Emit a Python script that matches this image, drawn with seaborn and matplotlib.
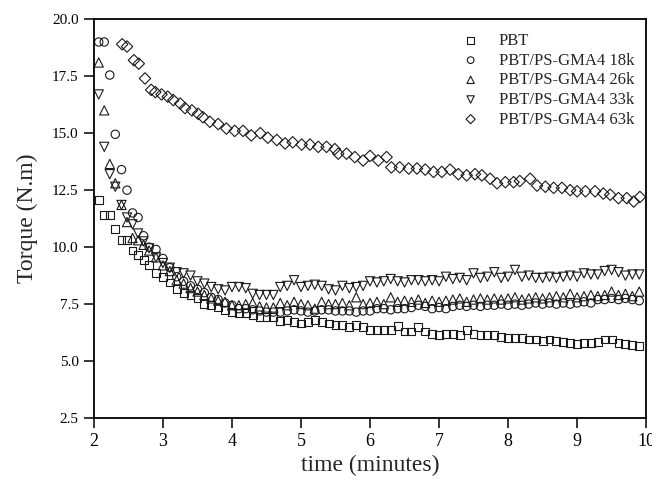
import numpy as np
import pandas as pd
import matplotlib
matplotlib.use("Agg")
import matplotlib.pyplot as plt
import seaborn as sns

# ---- data ----
time_early = [2.07, 2.15, 2.23, 2.31, 2.40, 2.48, 2.56, 2.64, 2.72, 2.80, 2.90]
time_late = np.round(np.arange(3.0, 9.95, 0.1), 2)
time = np.concatenate([time_early, time_late])

pbt = [12.05, 11.4, 11.4, 10.8, 10.3, 10.3, 9.85, 9.65, 9.45, 9.2, 8.85,
       8.7, 8.45, 8.15, 8.0, 7.9, 7.75, 7.5, 7.45, 7.35, 7.25,
       7.15, 7.1, 7.1, 7.0, 6.95, 6.95, 6.95, 6.75, 6.8, 6.7,
       6.65, 6.7, 6.8, 6.7, 6.65, 6.6, 6.58, 6.5, 6.58, 6.5,
       6.35, 6.35, 6.35, 6.35, 6.55, 6.3, 6.3, 6.5, 6.3, 6.2,
       6.15, 6.2, 6.2, 6.15, 6.35, 6.2, 6.15, 6.15, 6.15, 6.05,
       6.0, 6.0, 6.0, 5.95, 5.95, 5.9, 5.95, 5.9, 5.85, 5.8,
       5.75, 5.8, 5.8, 5.85, 5.95, 5.95, 5.8, 5.75, 5.7, 5.65]

gma_18k = [19.0, 19.0, 17.55, 14.95, 13.4, 12.5, 11.5, 11.3, 10.5, 10.0, 9.9,
           9.5, 9.1, 8.7, 8.5, 8.3, 8.15, 8.0, 7.8, 7.7, 7.55,
           7.45, 7.3, 7.3, 7.25, 7.2, 7.15, 7.15, 7.15, 7.2, 7.25,
           7.2, 7.15, 7.2, 7.25, 7.25, 7.2, 7.2, 7.2, 7.15, 7.2,
           7.2, 7.3, 7.3, 7.25, 7.3, 7.3, 7.35, 7.45, 7.4, 7.3,
           7.35, 7.3, 7.4, 7.45, 7.4, 7.45, 7.4, 7.45, 7.45, 7.5,
           7.45, 7.5, 7.45, 7.5, 7.55, 7.5, 7.55, 7.5, 7.55, 7.5,
           7.55, 7.6, 7.55, 7.7, 7.7, 7.75, 7.7, 7.75, 7.7, 7.65]

gma_26k = [18.1, 16.0, 13.65, 12.8, 11.85, 11.1, 10.4, 10.3, 10.1, 9.85, 9.55,
           9.2, 8.95, 8.55, 8.4, 8.2, 8.05, 7.9, 7.75, 7.65, 7.6,
           7.45, 7.45, 7.5, 7.55, 7.4, 7.35, 7.35, 7.55, 7.45, 7.6,
           7.5, 7.45, 7.3, 7.6, 7.5, 7.5, 7.55, 7.45, 7.8, 7.5,
           7.55, 7.6, 7.5, 7.8, 7.6, 7.65, 7.6, 7.7, 7.55, 7.65,
           7.6, 7.65, 7.7, 7.75, 7.6, 7.7, 7.75, 7.7, 7.75, 7.7,
           7.75, 7.8, 7.7, 7.75, 7.8, 7.75, 7.8, 7.85, 7.8, 7.95,
           7.8, 7.85, 7.9, 7.85, 7.9, 8.05, 7.9, 7.95, 7.85, 8.05]

gma_33k = [16.7, 14.4, 13.2, 12.65, 11.85, 11.3, 11.0, 10.6, 10.25, 9.95, 9.55,
           9.3, 9.1, 8.9, 8.85, 8.75, 8.5, 8.4, 8.25, 8.15, 8.1,
           8.25, 8.25, 8.2, 7.95, 7.9, 7.9, 7.9, 8.25, 8.3, 8.55,
           8.25, 8.3, 8.35, 8.3, 8.15, 8.1, 8.3, 8.2, 8.25, 8.3,
           8.5, 8.45, 8.5, 8.6, 8.5, 8.45, 8.55, 8.55, 8.5, 8.55,
           8.5, 8.7, 8.6, 8.65, 8.55, 8.85, 8.65, 8.7, 8.9, 8.65,
           8.7, 9.0, 8.7, 8.75, 8.65, 8.65, 8.7, 8.65, 8.7, 8.75,
           8.7, 8.85, 8.8, 8.8, 8.95, 9.0, 8.9, 8.75, 8.8, 8.8]

time_63k = [2.41, 2.48, 2.58, 2.65, 2.74, 2.83, 2.89, 2.98, 3.07, 3.15,
            3.25, 3.32, 3.42, 3.51, 3.58, 3.68, 3.80, 3.92, 4.04, 4.16,
            4.28, 4.41, 4.52, 4.65, 4.77, 4.88, 5.01, 5.13, 5.25, 5.37,
            5.49, 5.54, 5.66, 5.78, 5.90, 6.00, 6.12, 6.24, 6.31, 6.43,
            6.56, 6.68, 6.80, 6.92, 7.04, 7.16, 7.28, 7.40, 7.52, 7.62,
            7.74, 7.84, 7.96, 8.08, 8.17, 8.32, 8.42, 8.54, 8.66, 8.78,
            8.90, 9.00, 9.12, 9.26, 9.38, 9.48, 9.60, 9.72, 9.82, 9.91]
gma_63k = [18.9, 18.8, 18.2, 18.05, 17.4, 16.9, 16.8, 16.7, 16.6, 16.45,
           16.3, 16.1, 16.0, 15.85, 15.7, 15.5, 15.4, 15.2, 15.1, 15.1,
           14.9, 15.0, 14.8, 14.7, 14.55, 14.6, 14.5, 14.5, 14.4, 14.4,
           14.3, 14.1, 14.1, 13.95, 13.8, 14.0, 13.8, 13.95, 13.5, 13.5,
           13.45, 13.45, 13.4, 13.3, 13.3, 13.4, 13.2, 13.15, 13.2, 13.15,
           13.0, 12.8, 12.85, 12.85, 12.9, 13.0, 12.7, 12.65, 12.6, 12.6,
           12.5, 12.45, 12.45, 12.45, 12.35, 12.3, 12.15, 12.15, 12.0, 12.2]

labels = ["PBT", "PBT/PS-GMA4 18k", "PBT/PS-GMA4 26k",
          "PBT/PS-GMA4 33k", "PBT/PS-GMA4 63k"]
x_ticks = [2, 3, 4, 5, 6, 7, 8, 9, 10]
y_ticks = [2.5, 5.0, 7.5, 10.0, 12.5, 15.0, 17.5, 20.0]

series = [
    (time, pbt, labels[0], "s", 32),
    (time, gma_18k, labels[1], "o", 36),
    (time, gma_26k, labels[2], "^", 44),
    (time, gma_33k, labels[3], "v", 44),
    (time_63k, gma_63k, labels[4], "D", 34),
]

# ---- plot ----
sns.set_theme(style="ticks")
plt.rcParams["font.family"] = ["Liberation Serif", "DejaVu Serif"]

fig = plt.figure(figsize=(6.52, 4.8), dpi=100)
ax = fig.add_axes([0.144, 0.129, 0.847, 0.831])

for xs, ys, lab, mk, sz in series:
    df = pd.DataFrame({"time": xs, "torque": ys})
    sns.scatterplot(data=df, x="time", y="torque", marker=mk, s=sz,
                    color="black", label=lab, ax=ax, legend=False)

for coll in ax.collections:
    coll.set_facecolor("none")
    coll.set_edgecolor("#1a1a1a")
    coll.set_linewidth(0.8)

ax.set_xlim(2, 10)
ax.set_ylim(2.5, 20)
ax.set_xticks(x_ticks)
ax.set_xticklabels([str(v) for v in x_ticks], fontsize=13)
ax.set_yticks(y_ticks)
ax.set_yticklabels([f"{v:.1f}" for v in y_ticks], fontsize=11)
ax.tick_params(direction="out", length=7, width=1.1, colors="black", pad=4)

for sp in ax.spines.values():
    sp.set_visible(True)
    sp.set_color("black")
    sp.set_linewidth(1.3)

ax.set_xlabel("time (minutes)", fontsize=17, labelpad=3)
ax.set_ylabel("Torque (N.m)", fontsize=17, labelpad=10)

handles = ax.collections[:5]
leg = ax.legend(handles, labels, loc="upper right", bbox_to_anchor=(1.0, 0.995),
                frameon=False, fontsize=12, handlelength=1.0,
                handletextpad=1.2, labelspacing=0.22, borderaxespad=0.3,
                markerscale=0.8)

fig.savefig("out.png", dpi=100)
